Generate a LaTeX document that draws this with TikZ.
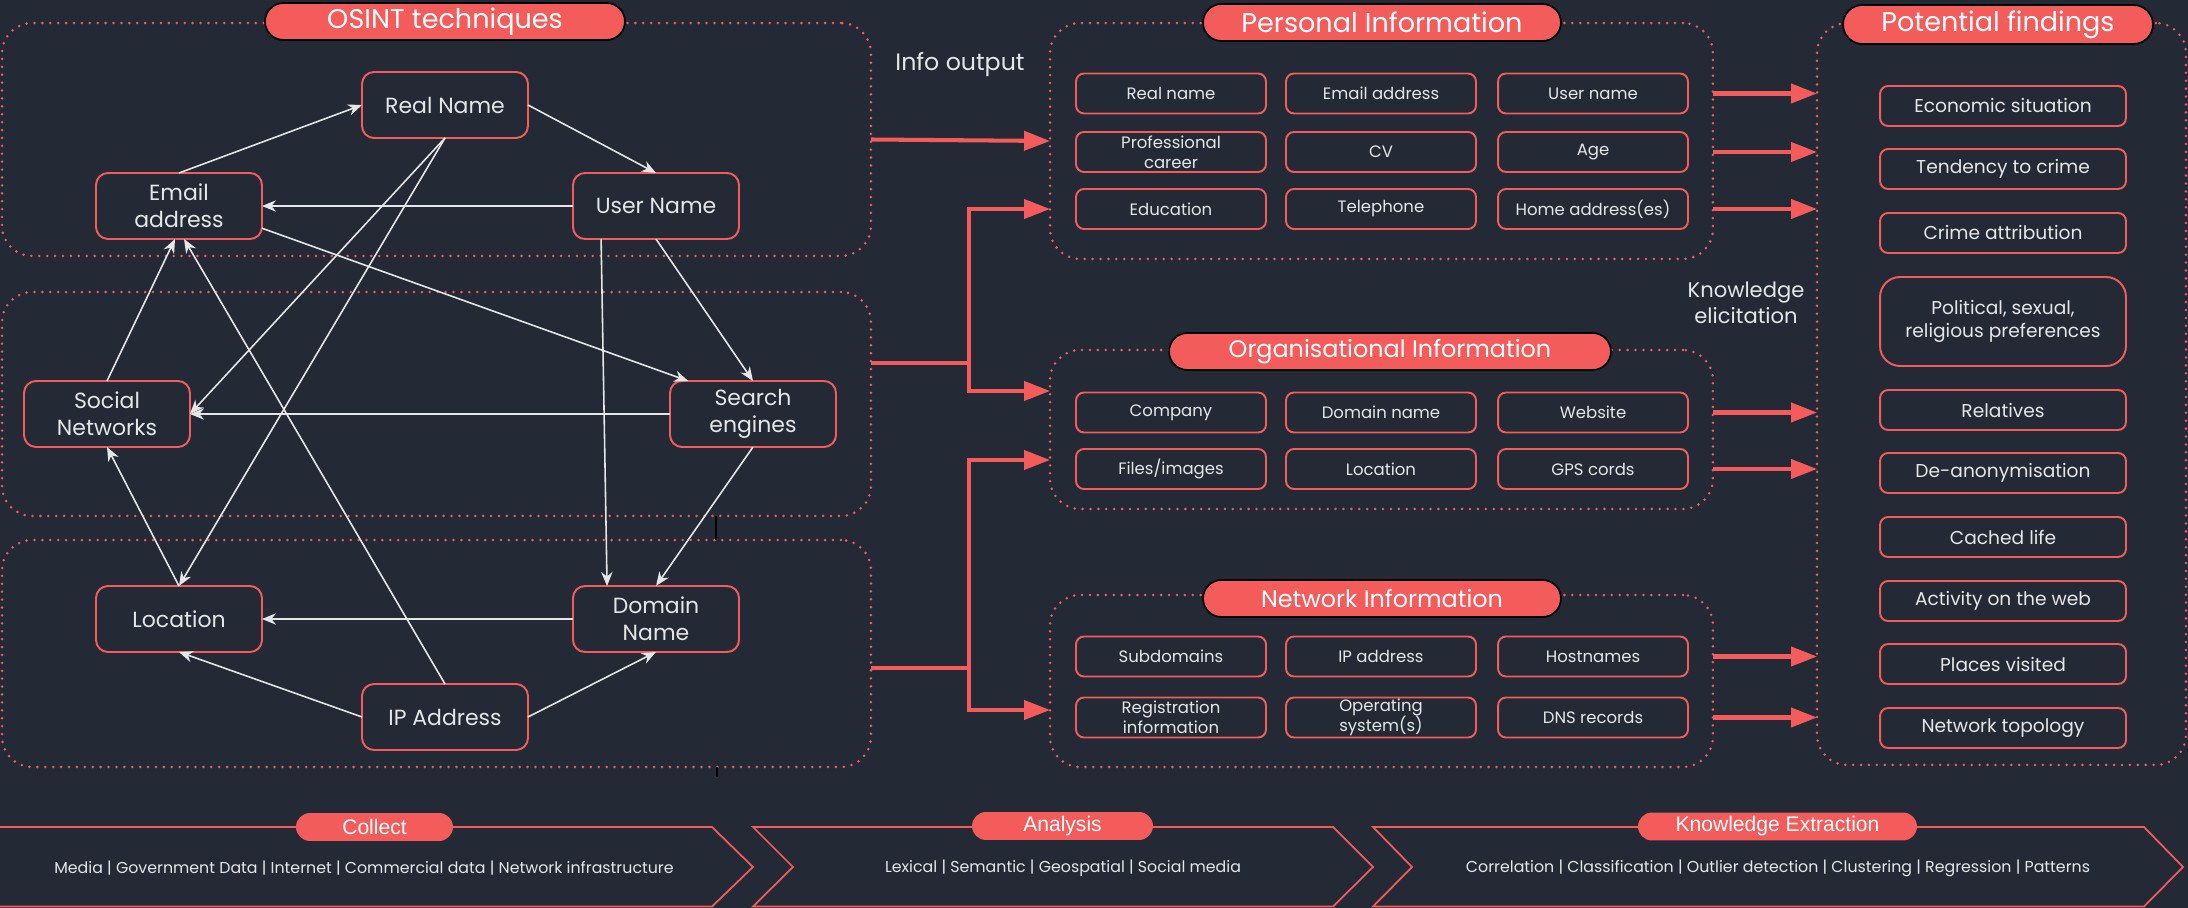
\documentclass[tikz,border=0pt]{standalone}
\usepackage{fontspec}
\setmainfont{Poppins}
\newfontfamily\arialfont{Liberation Sans}
\usetikzlibrary{arrows.meta}
\definecolor{bgdark}{HTML}{232A35}
\definecolor{osred}{HTML}{F45B5B}
\definecolor{txtgrey}{HTML}{E6E6E6}
\tikzset{
 panel/.style={draw=osred, line width=1.6pt, dash pattern=on 0pt off 4.5pt,
   line cap=round, rounded corners=0.6cm, inner sep=0pt, outer sep=0pt},
 pill/.style={fill=osred, draw=black, line width=1pt, rounded corners=0.37cm,
   minimum height=0.74cm, inner sep=0pt, text=white,
   font=\fontsize{15.4}{18}\selectfont},
 stage/.style={fill=osred, rounded corners=0.28cm, minimum height=0.56cm,
   inner sep=0pt, text=white, font=\arialfont\fontsize{12}{14}\selectfont},
 tech/.style={draw=osred, line width=1.1pt, rounded corners=0.24cm,
   minimum width=3.32cm, minimum height=1.32cm, inner sep=0pt, outer sep=0pt,
   align=center, text=txtgrey, font=\fontsize{12.5}{15.2}\selectfont},
 item/.style={draw=osred, line width=1.1pt, rounded corners=0.16cm,
   minimum width=3.8cm, minimum height=0.8cm, inner sep=0pt, outer sep=0pt,
   align=center, text=txtgrey, font=\fontsize{9.4}{11.6}\selectfont},
 finding/.style={item, minimum width=4.92cm, font=\fontsize{10.6}{13.4}\selectfont},
 note/.style={text=txtgrey, align=center, font=\fontsize{13.5}{15}\selectfont},
 link/.style={draw=txtgrey, line width=0.9pt, -{Stealth[length=8pt, width=6.5pt]}},
 flow/.style={draw=osred, line width=2.3pt, -{Triangle[length=14.8pt, width=10.8pt]}},
 flowline/.style={draw=osred, line width=2.3pt},
 chevron/.style={draw=osred, line width=1pt},
 steptxt/.style={text=txtgrey, font=\fontsize{9}{11}\selectfont},
}
\begin{document}
\begin{tikzpicture}[x=0.02cm, y=-0.02cm]
    \useasboundingbox (0,0) rectangle (2188,908);
    \fill[bgdark] (0,0) rectangle (2188,908);

    % dotted panels
    \node[panel, minimum width=17.38cm, minimum height=4.66cm] (tech1) at (436.5,139.5) {};
    \node[panel, minimum width=17.38cm, minimum height=4.48cm] (tech2) at (436.5,404) {};
    \node[panel, minimum width=17.38cm, minimum height=4.54cm] (tech3) at (436.5,653.5) {};
    \node[panel, minimum width=13.26cm, minimum height=4.72cm] (personal) at (1381.5,141) {};
    \node[panel, minimum width=13.26cm, minimum height=3.18cm] (orginfo) at (1381.5,429.5) {};
    \node[panel, minimum width=13.26cm, minimum height=3.44cm] (netinfo) at (1381.5,681) {};
    \node[panel, minimum width=7.38cm, minimum height=14.84cm] (findings) at (2001.5,394) {};

    % titles
    \node[pill, minimum width=7.2cm] (osint) at (445,21.5) {OSINT techniques};
    \node[pill, minimum width=7.16cm] (ptitle) at (1382,22.5) {Personal Information};
    \node[pill, minimum width=8.84cm, font=\fontsize{13.6}{16}\selectfont] (otitle) at (1390,351.5) {Organisational Information};
    \node[pill, minimum width=7.16cm, font=\fontsize{13.6}{16}\selectfont] (ntitle) at (1382,598.5) {Network Information};
    \node[pill, minimum width=6.2cm, minimum height=0.78cm, rounded corners=0.39cm] (ftitle) at (1998,24.5) {Potential findings};

    \node[note] (infoout) at (960,65) {Info output};
    \node[note, font=\fontsize{12}{14.6}\selectfont] (elicit) at (1746,303) {Knowledge\\elicitation};

    % OSINT graph
    \node[tech] (realname) at (445,105) {Real Name};
    \node[tech] (email) at (179,206) {Email\\address};
    \node[tech] (username) at (656,206) {User Name};
    \node[tech] (social) at (107,414) {Social\\Networks};
    \node[tech] (search) at (753,414) {Search\\engines};
    \node[tech] (location) at (179,619) {Location};
    \node[tech] (domain) at (656,619) {Domain\\Name};
    \node[tech] (ip) at (445,717) {IP Address};

    \draw[link] (email.north) -- (realname.west);
    \draw[link] (realname.east) -- (username.north);
    \draw[link] (username.west) -- (email.east);
    \draw[link] (realname.south) -- (social.east);
    \draw[link] (realname.south) -- (location.north);
    \draw[link] (email.-15) -- (search.153);
    \draw[link] (username.south) -- (search.north);
    \draw[link] (username.211) -- (domain.146);
    \draw[link] (search.west) -- (social.east);
    \draw[link] (search.south) -- (domain.north);
    \draw[link] (social.north) -- ([xshift=-0.08cm]email.south);
    \draw[link] (ip.north) -- ([xshift=0.1cm]email.south);
    \draw[link] (location.north) -- (social.south);
    \draw[link] (domain.west) -- (location.east);
    \draw[link] (ip.west) -- (location.south);
    \draw[link] (ip.east) -- (domain.south);

    \draw[black, line width=0.6pt] (716,516) -- (716,540);
    \draw[black, line width=0.6pt] (717,767) -- (717,777);

    % personal information
    \node[item] (pname) at (1171,93.5) {Real name};
    \node[item] (pmail) at (1381,93.5) {Email address};
    \node[item] (puser) at (1593,93.5) {User name};
    \node[item] (pcareer) at (1171,152) {Professional\\career};
    \node[item] (pcv) at (1381,152) {CV};
    \node[item] (page) at (1593,152) {Age};
    \node[item] (pedu) at (1171,209) {Education};
    \node[item] (ptel) at (1381,209) {Telephone};
    \node[item] (phome) at (1593,209) {Home address(es)};

    % organisational information
    \node[item] (ocomp) at (1171,412.5) {Company};
    \node[item] (odom) at (1381,412.5) {Domain name};
    \node[item] (oweb) at (1593,412.5) {Website};
    \node[item] (ofiles) at (1171,469) {Files/images};
    \node[item] (oloc) at (1381,469) {Location};
    \node[item] (ogps) at (1593,469) {GPS cords};

    % network information
    \node[item] (nsub) at (1171,656.5) {Subdomains};
    \node[item] (nip) at (1381,656.5) {IP address};
    \node[item] (nhost) at (1593,656.5) {Hostnames};
    \node[item] (nreg) at (1171,717.5) {Registration\\information};
    \node[item] (nos) at (1381,717.5) {Operating\\system(s)};
    \node[item] (ndns) at (1593,717.5) {DNS records};

    % findings
    \node[finding] (f1) at (2003,106) {Economic situation};
    \node[finding] (f2) at (2003,169) {Tendency to crime};
    \node[finding] (f3) at (2003,233) {Crime attribution};
    \node[finding, minimum height=1.78cm, rounded corners=0.4cm] (f4) at (2003,321.5) {Political, sexual,\\religious preferences};
    \node[finding] (f5) at (2003,410) {Relatives};
    \node[finding] (f6) at (2003,473) {De-anonymisation};
    \node[finding] (f7) at (2003,537) {Cached life};
    \node[finding] (f8) at (2003,601) {Activity on the web};
    \node[finding] (f9) at (2003,664) {Places visited};
    \node[finding] (f10) at (2003,728) {Network topology};

    % red flows
    \draw[flow] (tech1.east) -- (personal.west);
    \coordinate (fk1) at (969,363);
    \coordinate (fk1a) at (969,209);
    \coordinate (fk1b) at (969,391);
    \draw[flowline] (tech2.east |- fk1) -- (fk1);
    \draw[flow] (fk1) -- (fk1a) -- (personal.west |- fk1a);
    \draw[flow] (fk1) -- (fk1b) -- (orginfo.west |- fk1b);
    \coordinate (fk2) at (969,668);
    \coordinate (fk2a) at (969,460);
    \coordinate (fk2b) at (969,710);
    \draw[flowline] (tech3.east |- fk2) -- (fk2);
    \draw[flow] (fk2) -- (fk2a) -- (orginfo.west |- fk2a);
    \draw[flow] (fk2) -- (fk2b) -- (netinfo.west |- fk2b);

    \foreach \n in {puser,page,phome}
        \draw[flow] (personal.east |- \n) -- (findings.west |- \n);
    \foreach \n in {oweb,ogps}
        \draw[flow] (orginfo.east |- \n) -- (findings.west |- \n);
    \foreach \n in {nhost,ndns}
        \draw[flow] (netinfo.east |- \n) -- (findings.west |- \n);

    % process chevrons
    \draw[chevron] (0,827) -- (712,827) -- (753,867) -- (712,906.5) -- (0,906.5);
    \draw[chevron] (753,827) -- (1333,827) -- (1373,867) -- (1333,906.5) -- (753,906.5) -- (793,867) -- cycle;
    \draw[chevron] (1373,827) -- (2144,827) -- (2183,867) -- (2144,906.5) -- (1373,906.5) -- (1412,867) -- cycle;

    \node[stage, minimum width=3.14cm] (collect) at (374.5,827) {Collect};
    \node[stage, minimum width=3.62cm] (analysis) at (1062.5,826) {Analysis};
    \node[stage, minimum width=5.58cm] (extract) at (1777.5,826.5) {Knowledge Extraction};

    \node[steptxt] (collecttxt) at (364,868) {Media | Government Data | Internet | Commercial data | Network infrastructure};
    \node[steptxt] (analysistxt) at (1063,868) {Lexical | Semantic | Geospatial | Social media};
    \node[steptxt] (extracttxt) at (1778,868) {Correlation | Classification | Outlier detection | Clustering | Regression | Patterns};
\end{tikzpicture}
\end{document}
